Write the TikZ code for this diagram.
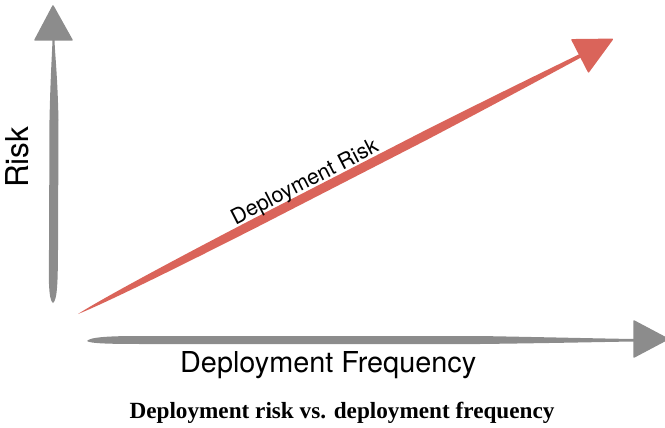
\documentclass[tikz,border=0pt]{standalone}
\usepackage{fontspec}
\setmainfont{Liberation Serif}
\newfontfamily\labelfont{TeX Gyre Heros}
\definecolor{axisgray}{RGB}{140,140,140}
\definecolor{riskred}{RGB}{218,100,90}
\tikzset{
  axisstroke/.style={fill=axisgray, draw=none},
  riskstroke/.style={fill=riskred, draw=none},
  axistip/.style={fill=axisgray, draw=axisgray, line width=1.5pt, line join=round},
  risktip/.style={fill=riskred, draw=riskred, line width=1.5pt, line join=round},
  axislabel/.style={font=\labelfont\fontsize{28.8}{30}\selectfont, text=black, inner sep=0pt},
}
\begin{document}
\begin{tikzpicture}[x=1pt, y=-1pt]
  \useasboundingbox (0,0) rectangle (665,428);

  % vertical axis: brush stroke and arrowhead
  \fill[axisstroke] (53,303) .. controls (48.5,300) and (48.5,280) .. (49,250)
     -- (49.5,120) .. controls (50.5,75) and (52,55) .. (52.5,40)
     -- (54.5,40) .. controls (55,55) and (57.5,75) .. (58.5,120)
     -- (58,250) .. controls (57.8,280) and (57.5,300) .. (53,303) -- cycle;
  \filldraw[axistip] (53,6) -- (35,40) -- (72,40) -- cycle;

  % horizontal axis: brush stroke and arrowhead
  \fill[axisstroke] (87,341) .. controls (90,337) and (110,336) .. (140,336)
     -- (480,336) .. controls (560,337.5) and (600,338.5) .. (634,339)
     -- (634,341.5) .. controls (600,342) and (560,343) .. (480,344)
     -- (140,344) .. controls (110,344) and (90,343.5) .. (87,341) -- cycle;
  \filldraw[axistip] (634,321) -- (668,339) -- (634,357) -- cycle;

  % rising risk line, drawn along its own direction
  \begin{scope}[shift={(78,314)}, x={(0.889pt,0.457pt)}, y={(0.457pt,-0.889pt)}]
    \fill[riskstroke] (0,0) .. controls (20,-2) and (80,-4) .. (200,-4.6)
       -- (390,-4.6) .. controls (480,-3.8) and (535,-2.4) .. (568,-1.8)
       -- (568,1.8) .. controls (535,2.4) and (480,3.8) .. (390,4.6)
       -- (200,4.6) .. controls (80,4) and (20,2) .. (0,0) -- cycle;
    \filldraw[risktip] (565,-18) -- (601,0) -- (565,18) -- cycle;
    \coordinate (riskmid) at (262,-7);
  \end{scope}

  % labels
  \node[axislabel, font=\labelfont\fontsize{31.5}{33}\selectfont, rotate=90, anchor=base west] (risk) at (28,188) {Risk};
  \node[axislabel, anchor=base west] (freq) at (180,372) {Deployment Frequency};
  \node[font=\labelfont\fontsize{21.5}{23}\selectfont, inner sep=0pt, rotate=27.2, anchor=base]
    (drisk) at (riskmid) {Deployment Risk};
  \node[font=\bfseries\fontsize{23.2}{25}\selectfont, inner sep=0pt, anchor=base]
    (caption) at (342,418) {Deployment risk vs. deployment frequency};
\end{tikzpicture}
\end{document}
